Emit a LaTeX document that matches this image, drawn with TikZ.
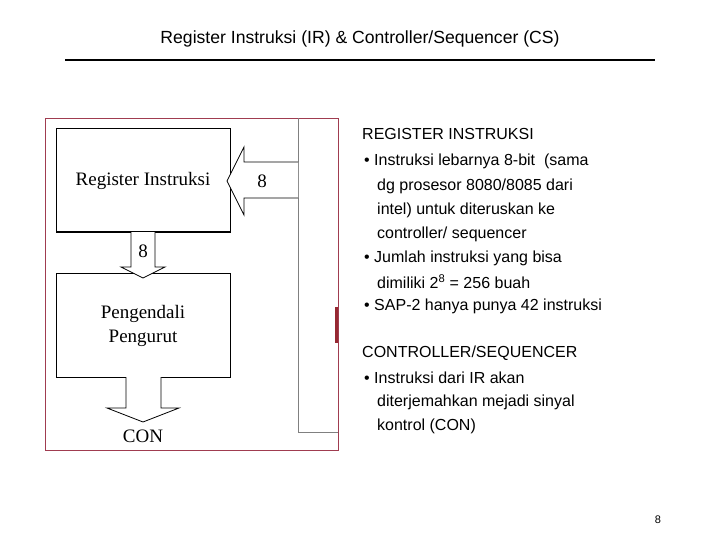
\documentclass[tikz,border=0pt]{standalone}
\usepackage{fontspec}
\setmainfont{Liberation Sans}
\newfontfamily\serifx{Liberation Serif}
\definecolor{framered}{RGB}{160,60,80}
\definecolor{barred}{RGB}{150,40,50}
\newcommand\myftitle{\fontsize{17.6}{20}\selectfont}
\newcommand\myftxt{\fontsize{16}{18}\selectfont}
\newcommand\myfser{\serifx\fontsize{19}{22}\selectfont}
\newcommand\myfpg{\fontsize{11}{12}\selectfont}
\begin{document}
\begin{tikzpicture}[x=1pt,y=-1pt,
  box/.style={draw,line width=1pt},
  fat/.style={draw,line width=0.8pt,fill=white},
  txt/.style={anchor=west,inner sep=0,font=\myftxt},
  sv/.style={font=\myfser,inner sep=0}]
\useasboundingbox (0,0) rectangle (720,540);
\node[font=\myftitle] (title) at (360,39) {Register Instruksi (IR) \& Controller/Sequencer (CS)};
\draw[line width=2.5pt] (65,60) -- (655,60);
% image frame
\draw[draw=framered,line width=0.7pt] (45,118) rectangle (338,450);
\draw[gray,line width=0.8pt] (298,118) -- (298,432) -- (338,432);
\fill[barred] (335,307) rectangle (338,343);
\draw[box] (56,129) rectangle (230,232);
\node[sv] (ir) at (143,181) {Register Instruksi};
\draw[box] (56,273) rectangle (230,377);
\node[sv,align=center] (pp) at (143,326) {Pengendali\\[2pt]Pengurut};
\draw[fat] (298,162) -- (244,162) -- (244,147) -- (227,181) -- (244,215) -- (244,198) -- (298,198);
\node[sv] (in8) at (262,181) {8};
\draw[fat] (131,232) -- (131,267) -- (121,267) -- (143,278) -- (165,267) -- (155,267) -- (155,232);
\node[sv] (m8) at (143,251) {8};
\draw[fat] (126,377) -- (126,408) -- (107,408) -- (143,422) -- (179,408) -- (161,408) -- (161,377);
\node[sv] (con) at (143,436) {CON};
% right text
\node[txt] (t1) at (362,134) {REGISTER INSTRUKSI};
\node[txt] (t2) at (364,161) {• Instruksi lebarnya 8-bit\ \ (sama};
\node[txt] (t3) at (377,186) {dg prosesor 8080/8085 dari};
\node[txt] (t4) at (377,210) {intel) untuk diteruskan ke};
\node[txt] (t5) at (377,234) {controller/ sequencer};
\node[txt] (t6) at (364,258) {• Jumlah instruksi yang bisa};
\node[txt] (t7) at (377,282) {dimiliki 2\textsuperscript{8} = 256 buah};
\node[txt] (t8) at (364,306) {• SAP-2 hanya punya 42 instruksi};
\node[txt] (t9) at (362,353) {CONTROLLER/SEQUENCER};
\node[txt] (t10) at (364,378) {• Instruksi dari IR akan};
\node[txt] (t11) at (377,402) {diterjemahkan mejadi sinyal};
\node[txt] (t12) at (377,426) {kontrol (CON)};
\node[font=\myfpg] (pg) at (658,520) {8};
\end{tikzpicture}
\end{document}
